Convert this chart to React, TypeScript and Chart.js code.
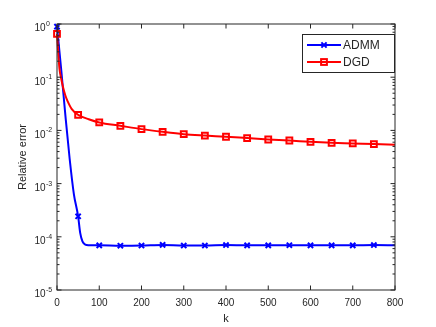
import React, { useEffect, useRef } from 'react';
import { Chart, registerables } from 'chart.js';

Chart.register(...registerables);

const admmK = [0, 10, 20, 30, 40, 50, 55, 60, 65, 70, 80, 100, 150, 200, 250, 300, 350, 400, 450, 500, 550, 600, 650, 700, 750, 800];
const admmErr = [0.89, 0.138, 0.0186, 0.0029, 6.3e-4, 2.43e-4, 1.17e-4, 8.3e-5, 7.3e-5, 7.0e-5, 6.9e-5, 6.9e-5, 6.8e-5, 6.85e-5, 7.05e-5, 6.85e-5, 6.85e-5, 7.0e-5, 6.9e-5, 6.9e-5, 6.95e-5, 6.9e-5, 6.9e-5, 6.9e-5, 7.0e-5, 6.9e-5];

const dgdK = [0, 3, 6, 10, 14, 20, 25, 35, 50, 75, 100, 150, 200, 250, 300, 350, 400, 450, 500, 550, 600, 650, 700, 750, 800];
const dgdErr = [0.65, 0.282, 0.141, 0.0933, 0.0661, 0.0447, 0.0355, 0.0251, 0.0196, 0.0162, 0.0141, 0.0122, 0.01057, 0.0094, 0.0085, 0.008, 0.0076, 0.00716, 0.00675, 0.00646, 0.0061, 0.00585, 0.0057, 0.00553, 0.0054];

const seriesNames = ['ADMM', 'DGD'];
const xTickValues = [0, 100, 200, 300, 400, 500, 600, 700, 800];
const yDecades = [0, -1, -2, -3, -4, -5];
const xLabel = 'k';
const yLabel = 'Relative error';

const FONT = "'Liberation Sans', Arial, Helvetica, sans-serif";
const AX = '#262626';
const BLUE = '#0000ff';
const RED = '#ff0000';

const markerAt = (k: number) => k % 50 === 0 && k < 800;

export default function App() {
  const ref = useRef<HTMLCanvasElement>(null);

  useEffect(() => {
    if (!ref.current) return;

    const axesPlugin = {
      id: 'matlabAxes',
      afterDatasetsDraw(chart: any) {
        const { ctx, chartArea: a, scales } = chart;
        const xs = scales.x;
        const ys = scales.y;
        const L = a.left, R = a.right, T = a.top, B = a.bottom;
        ctx.save();
        ctx.strokeStyle = AX;
        ctx.lineWidth = 1;
        // box
        ctx.strokeRect(L, T, R - L, B - T);
        // x ticks (bottom and top, inward)
        ctx.beginPath();
        for (const v of xTickValues) {
          const px = xs.getPixelForValue(v);
          ctx.moveTo(px, B); ctx.lineTo(px, B - 4.5);
          ctx.moveTo(px, T); ctx.lineTo(px, T + 4.5);
        }
        // y major ticks
        for (const d of yDecades) {
          const py = ys.getPixelForValue(Math.pow(10, d));
          ctx.moveTo(L, py); ctx.lineTo(L + 4.5, py);
          ctx.moveTo(R, py); ctx.lineTo(R - 4.5, py);
        }
        // y minor ticks
        for (const d of yDecades) {
          if (d === 0) continue;
          for (let m = 2; m <= 9; m++) {
            const py = ys.getPixelForValue(m * Math.pow(10, d));
            ctx.moveTo(L, py); ctx.lineTo(L + 2.5, py);
            ctx.moveTo(R, py); ctx.lineTo(R - 2.5, py);
          }
        }
        ctx.stroke();

        // y tick labels 10^d
        ctx.fillStyle = AX;
        for (const d of yDecades) {
          const py = ys.getPixelForValue(Math.pow(10, d));
          ctx.font = `10px ${FONT}`;
          ctx.textAlign = 'right';
          ctx.textBaseline = 'alphabetic';
          ctx.fillText('10', 45.5, py + 7.3);
          ctx.font = `7px ${FONT}`;
          ctx.textAlign = 'left';
          ctx.fillText(String(d), 46, py + 2);
        }

        // legend
        const bx = 302.5, by = 34.5, bw = 92, bh = 38;
        ctx.fillStyle = '#ffffff';
        ctx.fillRect(bx, by, bw, bh);
        ctx.strokeStyle = AX;
        ctx.lineWidth = 1;
        ctx.strokeRect(bx, by, bw, bh);
        const rows = [
          { name: seriesNames[0], color: BLUE, y: 45, marker: 'x' },
          { name: seriesNames[1], color: RED, y: 62, marker: 's' },
        ];
        for (const r of rows) {
          ctx.strokeStyle = r.color;
          ctx.lineWidth = 2;
          ctx.beginPath();
          ctx.moveTo(307, r.y); ctx.lineTo(341, r.y);
          ctx.stroke();
          const cx = 324;
          if (r.marker === 'x') {
            const s = 2.6;
            ctx.beginPath();
            ctx.moveTo(cx - s, r.y - s); ctx.lineTo(cx + s, r.y + s);
            ctx.moveTo(cx - s, r.y + s); ctx.lineTo(cx + s, r.y - s);
            ctx.stroke();
          } else {
            ctx.strokeRect(cx - 2.9, r.y - 2.9, 5.8, 5.8);
          }
          ctx.fillStyle = AX;
          ctx.font = `12px ${FONT}`;
          ctx.textAlign = 'left';
          ctx.textBaseline = 'middle';
          ctx.fillText(r.name, 343, r.y + 0.5);
        }
        ctx.restore();
      },
    };

    const chart = new Chart(ref.current, {
      type: 'line',
      data: {
        datasets: [
          {
            label: seriesNames[0],
            data: admmK.map((k, i) => ({ x: k, y: admmErr[i] })),
            borderColor: BLUE,
            backgroundColor: 'rgba(0,0,0,0)',
            borderWidth: 2,
            pointStyle: 'crossRot',
            pointBorderWidth: 2,
            pointBorderColor: BLUE,
            pointRadius: (c: any) => (markerAt(c.raw?.x) ? 3.7 : 0),
            cubicInterpolationMode: 'monotone',
            clip: false,
            order: 1,
          },
          {
            label: seriesNames[1],
            data: dgdK.map((k, i) => ({ x: k, y: dgdErr[i] })),
            borderColor: RED,
            backgroundColor: 'rgba(0,0,0,0)',
            borderWidth: 2,
            pointStyle: 'rect',
            pointBorderWidth: 2,
            pointBorderColor: RED,
            pointBackgroundColor: 'rgba(255,255,255,0)',
            pointRadius: (c: any) => (markerAt(c.raw?.x) ? 4.1 : 0),
            cubicInterpolationMode: 'monotone',
            clip: false,
            order: 0,
          },
        ],
      },
      options: {
        responsive: false,
        animation: false,
        devicePixelRatio: 1,
        layout: { padding: { left: 0, top: 24, right: 41, bottom: 0 } },
        plugins: { legend: { display: false }, tooltip: { enabled: false } },
        scales: {
          x: {
            type: 'linear',
            min: 0,
            max: 800,
            afterBuildTicks: (s: any) => { s.ticks = xTickValues.map((v) => ({ value: v })); },
            ticks: { color: AX, font: { size: 10, family: FONT }, padding: 7, maxRotation: 0, autoSkip: false },
            grid: { display: false, drawTicks: false },
            border: { display: false },
            title: { display: true, text: xLabel, color: AX, font: { size: 11, family: FONT }, padding: { top: 0, bottom: 1.4 } },
            afterFit: (s: any) => { s.height = 37; },
          },
          y: {
            type: 'logarithmic',
            min: 1e-5,
            max: 1,
            ticks: { display: false },
            grid: { display: false, drawTicks: false },
            border: { display: false },
            title: { display: true, text: yLabel, color: AX, font: { size: 11, family: FONT }, padding: { top: 16.4, bottom: 0 } },
            afterFit: (s: any) => { s.width = 57; },
          },
        },
      },
      plugins: [axesPlugin],
    } as any);

    return () => chart.destroy();
  }, []);

  return (
    <div style={{ position: 'fixed', left: 0, top: 0, width: 436, height: 327, background: '#ffffff' }}>
      <canvas ref={ref} width={436} height={327} style={{ display: 'block' }} />
    </div>
  );
}
